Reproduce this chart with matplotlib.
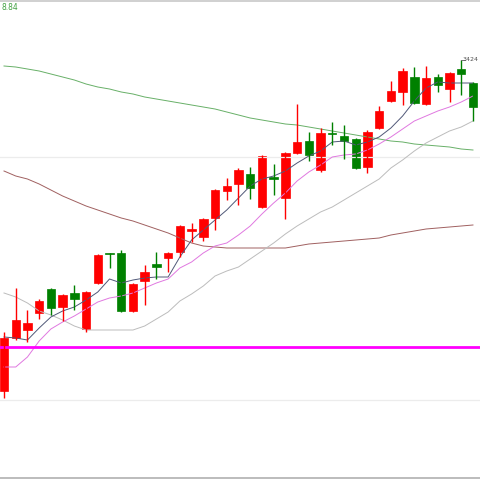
import matplotlib
matplotlib.use("Agg")
import matplotlib.pyplot as plt
import matplotlib.transforms as mtransforms
import numpy as np

# daily candles (index 0 = leftmost visible bar)
opens = [3291.6, 3312.8, 3316.0, 3322.8, 3332.4, 3325.2, 3330.8, 3316.4, 3334.8, 3346.8,
         3346.8, 3323.6, 3335.6, 3342.4, 3344.8, 3347.2, 3355.6, 3353.2, 3360.8, 3371.6,
         3374.4, 3378.4, 3365.2, 3377.2, 3368.8, 3386.8, 3391.6, 3380.0, 3394.8, 3393.6,
         3392.4, 3381.2, 3396.8, 3407.6, 3411.2, 3417.2, 3406.4, 3417.2, 3412.4, 3420.4,
         3414.8]
highs = [3315.2, 3332.8, 3324.0, 3328.4, 3332.8, 3330.4, 3334.0, 3331.6, 3346.4, 3347.0,
         3348.0, 3334.8, 3342.0, 3347.2, 3347.2, 3358.0, 3358.8, 3360.8, 3372.4, 3376.8,
         3380.8, 3381.2, 3386.0, 3382.4, 3387.2, 3406.4, 3395.2, 3396.8, 3399.2, 3398.0,
         3392.8, 3396.0, 3405.6, 3415.6, 3420.8, 3421.2, 3421.6, 3418.4, 3419.2, 3424.0,
         3415.2]
lows = [3288.8, 3312.0, 3311.2, 3320.4, 3322.0, 3319.6, 3324.0, 3315.2, 3334.4, 3340.8,
        3323.2, 3323.2, 3326.0, 3336.4, 3339.2, 3345.2, 3351.2, 3351.6, 3356.0, 3368.0,
        3366.0, 3368.4, 3364.8, 3370.0, 3360.4, 3386.4, 3383.6, 3379.2, 3390.0, 3384.4,
        3380.4, 3378.8, 3396.4, 3407.2, 3406.0, 3406.4, 3406.0, 3411.2, 3407.2, 3410.0,
        3399.6]
closes = [3312.8, 3320.0, 3318.8, 3327.6, 3324.8, 3330.0, 3328.4, 3331.2, 3346.0, 3346.2,
          3323.6, 3334.4, 3339.2, 3341.2, 3346.8, 3357.6, 3356.4, 3360.4, 3372.0, 3373.6,
          3380.0, 3372.8, 3385.6, 3376.4, 3386.8, 3391.2, 3386.0, 3394.8, 3394.4, 3391.6,
          3380.8, 3395.2, 3403.6, 3411.6, 3419.6, 3406.8, 3416.8, 3414.0, 3418.8, 3418.4,
          3405.2]

ma5 = [3313.2, 3312.8, 3312.0, 3316.8, 3321.2, 3323.6, 3325.2, 3328.0, 3331.2, 3336.4,
       3334.8, 3336.0, 3336.8, 3337.2, 3337.2, 3345.2, 3352.0, 3356.0, 3360.0, 3364.0,
       3368.8, 3373.6, 3376.4, 3377.6, 3379.6, 3382.8, 3385.6, 3387.6, 3391.2, 3391.6,
       3390.0, 3391.2, 3393.2, 3396.8, 3401.6, 3407.6, 3412.8, 3415.2, 3414.8, 3414.8,
       3414.8]
ma10 = [3301.2, 3301.2, 3305.2, 3311.6, 3316.4, 3319.2, 3321.6, 3324.4, 3327.2, 3328.8,
        3329.6, 3330.8, 3332.8, 3334.8, 3336.4, 3340.8, 3343.2, 3346.8, 3349.6, 3350.8,
        3354.0, 3357.6, 3362.4, 3366.8, 3370.8, 3375.6, 3379.2, 3382.0, 3385.2, 3386.0,
        3386.4, 3388.0, 3390.4, 3393.2, 3396.4, 3399.6, 3401.6, 3403.6, 3405.2, 3407.2,
        3409.6]
ma20 = [3330.8, 3329.2, 3326.8, 3323.6, 3322.0, 3320.0, 3317.6, 3316.0, 3316.0, 3316.0,
        3316.0, 3316.0, 3317.6, 3320.4, 3323.2, 3327.6, 3330.4, 3333.6, 3337.6, 3339.6,
        3341.2, 3344.4, 3347.6, 3350.8, 3354.4, 3357.6, 3360.4, 3363.2, 3365.2, 3368.0,
        3370.8, 3373.6, 3376.4, 3380.8, 3384.0, 3387.6, 3390.8, 3393.2, 3395.6, 3397.2,
        3399.6]
ma60 = [3379.6, 3377.6, 3376.4, 3374.4, 3372.0, 3369.6, 3367.6, 3365.6, 3364.0, 3362.4,
        3360.8, 3359.6, 3358.0, 3356.4, 3354.8, 3352.8, 3350.8, 3349.6, 3349.2, 3348.8,
        3348.8, 3348.8, 3348.8, 3348.8, 3348.8, 3349.6, 3350.4, 3350.8, 3351.2, 3351.6,
        3352.0, 3352.4, 3352.8, 3354.0, 3354.8, 3355.6, 3356.4, 3356.8, 3357.2, 3357.6,
        3358.0]
ma120 = [3421.6, 3421.2, 3420.4, 3419.6, 3418.4, 3417.2, 3416.0, 3414.4, 3413.2, 3412.4,
         3411.2, 3410.4, 3409.2, 3408.4, 3407.6, 3406.8, 3406.0, 3405.2, 3404.4, 3403.2,
         3402.0, 3400.8, 3400.0, 3399.2, 3398.4, 3398.0, 3397.2, 3396.4, 3395.6, 3394.8,
         3394.0, 3393.2, 3392.4, 3391.6, 3391.2, 3390.4, 3390.0, 3389.6, 3389.2, 3388.4,
         3388.0]

support = 3309.2
grid_levels = [3385.2, 3288.0]
top_label = "8.84"
high_label = "3424"

fig = plt.figure(figsize=(4.8, 4.8), dpi=100)
ax = fig.add_axes([0, 0, 1, 1])
ax.set_xlim(-0.341, 40.6)
ax.set_ylim(3256.0, 3448.0)
ax.axis("off")

# frame and grid
ax.axhline(3447.6, color="#c8c8c8", lw=1.2)
ax.axhline(3256.8, color="#b0b0b0", lw=1.2)
for g in grid_levels:
    ax.axhline(g, color="#ececec", lw=0.9)

x = np.arange(len(opens))

# moving averages
ax.plot(x, ma120, color="#68b068", lw=0.7)
ax.plot(x, ma60, color="#a06060", lw=0.7)
ax.plot(x, ma20, color="#bcbcbc", lw=0.7)
ax.plot(x, ma10, color="#e078e0", lw=0.7)
ax.plot(x, ma5, color="#505878", lw=0.7)

ax.axhline(support, color="#ff00ff", lw=2)

# candles
w = 0.72
for i in range(len(opens)):
    o, h, l, c = opens[i], highs[i], lows[i], closes[i]
    col = "#ff0000" if c >= o else "#008000"
    ax.vlines(i, l, h, color=col, lw=1)
    bottom = min(o, c)
    height = max(abs(c - o), 0.4)
    ax.bar(i, height, bottom=bottom, width=w, color=col, edgecolor=col, lw=0.5)

# labels
hi = int(np.argmax(highs))
ax.plot([hi, hi + 0.3], [highs[hi], highs[hi]], color="#606060", lw=0.6)
trans = mtransforms.blended_transform_factory(ax.transAxes, ax.transData)
ax.text(0.996, highs[hi], high_label, transform=trans, fontsize=4.5, color="#505050",
        va="center", ha="right")
fig.text(1 / 480, 1 - 7 / 480, top_label, fontsize=5.5, color="#40a040", ha="left", va="center")

fig.savefig("out.png", dpi=100)
